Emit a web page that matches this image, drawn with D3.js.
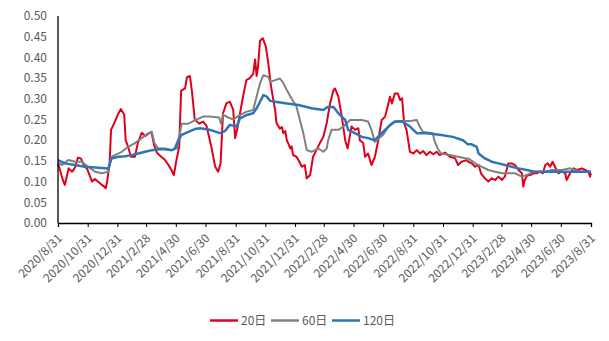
<!DOCTYPE html>
<html><head><meta charset="utf-8">
<script src="https://cdn.jsdelivr.net/npm/d3@7"></script>
<style>body{margin:0;background:#fff;} text{font-family:"Noto Sans CJK SC","Noto Sans",sans-serif;}</style>
</head><body>
<svg id="c" width="609" height="341"></svg>
<script>
const seriesNames = ["20日", "60日", "120日"];
const yTicks = [0, 0.05, 0.10, 0.15, 0.20, 0.25, 0.30, 0.35, 0.40, 0.45, 0.50];
const xTickLabels = ["2020/8/31","2020/10/31","2020/12/31","2021/2/28","2021/4/30","2021/6/30","2021/8/31","2021/10/31","2021/12/31","2022/2/28","2022/4/30","2022/6/30","2022/8/31","2022/10/31","2022/12/31","2023/2/28","2023/4/30","2023/6/30","2023/8/31"];

const vol20 = [
["2020-08-31",0.144],["2020-09-04",0.128],["2020-09-10",0.104],["2020-09-14",0.092],["2020-09-18",0.112],["2020-09-22",0.132],["2020-09-29",0.124],["2020-10-05",0.134],["2020-10-11",0.158],["2020-10-17",0.156],["2020-10-23",0.14],["2020-10-30",0.13],["2020-11-05",0.112],["2020-11-09",0.1],["2020-11-15",0.106],["2020-11-21",0.1],["2020-11-27",0.094],["2020-12-04",0.088],["2020-12-07",0.084],["2020-12-10",0.1],["2020-12-15",0.144],["2020-12-18",0.225],["2020-12-26",0.245],["2021-01-01",0.262],["2021-01-07",0.275],["2021-01-14",0.262],["2021-01-17",0.2],["2021-01-22",0.184],["2021-01-28",0.16],["2021-02-05",0.16],["2021-02-11",0.193],["2021-02-19",0.218],["2021-02-26",0.21],["2021-03-04",0.215],["2021-03-11",0.22],["2021-03-16",0.19],["2021-03-22",0.17],["2021-03-31",0.16],["2021-04-08",0.152],["2021-04-14",0.142],["2021-04-21",0.128],["2021-04-26",0.116],["2021-05-01",0.15],["2021-05-07",0.184],["2021-05-11",0.32],["2021-05-19",0.325],["2021-05-23",0.352],["2021-05-29",0.355],["2021-06-02",0.32],["2021-06-08",0.25],["2021-06-17",0.24],["2021-06-25",0.245],["2021-07-02",0.235],["2021-07-12",0.184],["2021-07-20",0.136],["2021-07-26",0.124],["2021-07-31",0.144],["2021-08-05",0.265],["2021-08-12",0.289],["2021-08-19",0.293],["2021-08-26",0.273],["2021-08-30",0.205],["2021-09-03",0.225],["2021-09-09",0.265],["2021-09-15",0.305],["2021-09-22",0.345],["2021-09-29",0.35],["2021-10-06",0.36],["2021-10-10",0.395],["2021-10-13",0.355],["2021-10-16",0.378],["2021-10-20",0.44],["2021-10-26",0.446],["2021-11-01",0.426],["2021-11-06",0.386],["2021-11-11",0.335],["2021-11-13",0.321],["2021-11-20",0.273],["2021-11-23",0.241],["2021-11-30",0.228],["2021-12-04",0.232],["2021-12-07",0.217],["2021-12-11",0.222],["2021-12-14",0.2],["2021-12-18",0.19],["2021-12-21",0.18],["2021-12-24",0.185],["2021-12-27",0.164],["2022-01-03",0.16],["2022-01-07",0.152],["2022-01-14",0.136],["2022-01-20",0.14],["2022-01-24",0.108],["2022-01-31",0.116],["2022-02-06",0.16],["2022-02-13",0.176],["2022-02-20",0.193],["2022-02-27",0.208],["2022-03-06",0.241],["2022-03-13",0.289],["2022-03-20",0.321],["2022-03-23",0.325],["2022-03-30",0.305],["2022-04-06",0.257],["2022-04-09",0.233],["2022-04-13",0.2],["2022-04-18",0.18],["2022-04-23",0.213],["2022-04-26",0.233],["2022-05-03",0.225],["2022-05-10",0.229],["2022-05-13",0.2],["2022-05-20",0.193],["2022-05-24",0.16],["2022-05-30",0.168],["2022-06-06",0.14],["2022-06-13",0.16],["2022-06-20",0.2],["2022-06-27",0.249],["2022-07-04",0.257],["2022-07-11",0.289],["2022-07-14",0.305],["2022-07-18",0.289],["2022-07-24",0.313],["2022-07-30",0.313],["2022-08-04",0.297],["2022-08-08",0.301],["2022-08-12",0.241],["2022-08-17",0.225],["2022-08-24",0.172],["2022-08-31",0.168],["2022-09-07",0.176],["2022-09-14",0.168],["2022-09-20",0.174],["2022-09-27",0.164],["2022-10-04",0.172],["2022-10-11",0.166],["2022-10-18",0.172],["2022-10-24",0.164],["2022-11-04",0.17],["2022-11-14",0.16],["2022-11-25",0.156],["2022-12-01",0.14],["2022-12-08",0.148],["2022-12-18",0.152],["2022-12-22",0.148],["2022-12-29",0.144],["2023-01-05",0.136],["2023-01-12",0.14],["2023-01-17",0.12],["2023-01-25",0.108],["2023-02-01",0.1],["2023-02-08",0.108],["2023-02-15",0.104],["2023-02-22",0.112],["2023-03-01",0.104],["2023-03-07",0.112],["2023-03-14",0.144],["2023-03-21",0.144],["2023-03-28",0.14],["2023-04-04",0.128],["2023-04-11",0.12],["2023-04-14",0.088],["2023-04-17",0.104],["2023-04-22",0.115],["2023-04-28",0.116],["2023-05-05",0.12],["2023-05-12",0.12],["2023-05-18",0.124],["2023-05-24",0.12],["2023-05-29",0.14],["2023-06-03",0.144],["2023-06-08",0.136],["2023-06-13",0.148],["2023-06-18",0.136],["2023-06-25",0.12],["2023-07-02",0.124],["2023-07-09",0.12],["2023-07-12",0.104],["2023-07-19",0.12],["2023-07-26",0.132],["2023-08-02",0.128],["2023-08-12",0.132],["2023-08-19",0.128],["2023-08-26",0.124],["2023-08-29",0.112],["2023-08-31",0.12]
];

const vol60 = [
["2020-08-31",0.146],["2020-09-08",0.14],["2020-09-21",0.152],["2020-10-05",0.148],["2020-10-19",0.148],["2020-11-01",0.136],["2020-11-15",0.124],["2020-11-29",0.12],["2020-12-12",0.124],["2020-12-19",0.16],["2020-12-26",0.164],["2021-01-09",0.172],["2021-01-22",0.184],["2021-02-05",0.193],["2021-02-19",0.205],["2021-03-05",0.217],["2021-03-12",0.22],["2021-03-17",0.193],["2021-03-25",0.18],["2021-04-08",0.18],["2021-04-22",0.176],["2021-05-02",0.18],["2021-05-09",0.22],["2021-05-12",0.24],["2021-05-26",0.24],["2021-06-08",0.248],["2021-06-25",0.257],["2021-07-09",0.257],["2021-07-28",0.255],["2021-08-01",0.24],["2021-08-05",0.262],["2021-08-15",0.255],["2021-08-26",0.25],["2021-09-09",0.261],["2021-09-23",0.269],["2021-10-06",0.273],["2021-10-13",0.305],["2021-10-20",0.337],["2021-10-27",0.357],["2021-11-06",0.353],["2021-11-10",0.341],["2021-11-20",0.345],["2021-11-30",0.349],["2021-12-07",0.338],["2021-12-14",0.321],["2021-12-24",0.3],["2022-01-03",0.281],["2022-01-10",0.249],["2022-01-17",0.217],["2022-01-24",0.176],["2022-02-03",0.172],["2022-02-17",0.18],["2022-02-27",0.172],["2022-03-06",0.18],["2022-03-09",0.2],["2022-03-16",0.225],["2022-03-30",0.225],["2022-04-09",0.233],["2022-04-16",0.241],["2022-04-23",0.249],["2022-05-17",0.249],["2022-05-30",0.245],["2022-06-06",0.225],["2022-06-13",0.196],["2022-06-30",0.213],["2022-07-11",0.233],["2022-07-18",0.241],["2022-07-28",0.245],["2022-08-28",0.247],["2022-09-07",0.249],["2022-09-13",0.233],["2022-09-20",0.22],["2022-10-10",0.217],["2022-10-13",0.2],["2022-10-20",0.18],["2022-10-27",0.168],["2022-11-14",0.164],["2022-12-01",0.16],["2022-12-18",0.156],["2022-12-22",0.156],["2023-01-05",0.144],["2023-01-18",0.136],["2023-02-01",0.128],["2023-02-15",0.124],["2023-03-01",0.12],["2023-03-28",0.12],["2023-04-11",0.112],["2023-04-21",0.116],["2023-05-05",0.124],["2023-05-29",0.124],["2023-06-11",0.128],["2023-07-02",0.128],["2023-07-19",0.132],["2023-07-29",0.128],["2023-08-12",0.124],["2023-08-31",0.124]
];

const vol120 = [
["2020-08-31",0.152],["2020-09-14",0.144],["2020-10-05",0.14],["2020-10-25",0.136],["2020-11-15",0.134],["2020-12-06",0.132],["2020-12-12",0.131],["2020-12-19",0.156],["2021-01-02",0.16],["2021-01-16",0.161],["2021-01-29",0.164],["2021-02-12",0.168],["2021-02-26",0.172],["2021-03-12",0.176],["2021-03-25",0.178],["2021-04-08",0.178],["2021-04-22",0.176],["2021-04-28",0.18],["2021-05-05",0.2],["2021-05-12",0.213],["2021-05-26",0.22],["2021-06-08",0.227],["2021-06-19",0.229],["2021-07-09",0.225],["2021-07-30",0.217],["2021-08-09",0.222],["2021-08-19",0.237],["2021-09-02",0.233],["2021-09-09",0.253],["2021-09-23",0.261],["2021-10-06",0.265],["2021-10-13",0.277],["2021-10-20",0.293],["2021-10-27",0.309],["2021-11-03",0.305],["2021-11-10",0.295],["2021-11-20",0.293],["2021-12-11",0.289],["2022-01-07",0.285],["2022-02-03",0.277],["2022-02-27",0.273],["2022-03-09",0.281],["2022-03-20",0.28],["2022-03-30",0.265],["2022-04-13",0.249],["2022-04-19",0.225],["2022-05-03",0.217],["2022-05-17",0.208],["2022-05-30",0.205],["2022-06-13",0.2],["2022-06-27",0.217],["2022-07-11",0.233],["2022-07-24",0.245],["2022-08-08",0.246],["2022-08-24",0.233],["2022-09-07",0.217],["2022-09-27",0.217],["2022-10-24",0.213],["2022-11-20",0.208],["2022-12-11",0.2],["2022-12-21",0.19],["2022-12-29",0.19],["2023-01-08",0.184],["2023-01-12",0.168],["2023-01-25",0.156],["2023-02-08",0.148],["2023-02-22",0.144],["2023-03-07",0.14],["2023-03-21",0.136],["2023-04-04",0.132],["2023-04-21",0.128],["2023-05-08",0.124],["2023-08-31",0.124]
];

const seriesData = [vol20, vol60, vol120];
const colors = ["#E0001B", "#808080", "#2E75B6"];
const widths = [2, 2, 2.5];

const parse = d3.timeParse("%Y-%m-%d");
const parseTick = d3.timeParse("%Y/%m/%d");
const svg = d3.select("#c");
const m = {l: 58, r: 591, t: 16, b: 223};
const x = d3.scaleTime().domain([parse("2020-08-31"), parse("2023-08-31")]).range([m.l, m.r]);
const y = d3.scaleLinear().domain([0, 0.5]).range([m.b, m.t]);

// y axis labels
svg.append("g").selectAll("text").data(yTicks).join("text")
  .attr("x", 47).attr("y", d => y(d)).attr("dy", "0.35em")
  .attr("text-anchor", "end").attr("font-size", 12).attr("fill", "#595959")
  .text(d => d.toFixed(2));

// lines
const line = d3.line().x(d => x(parse(d[0]))).y(d => y(d[1]));
seriesData.forEach((s, i) => {
  svg.append("path").datum(s).attr("d", line)
    .attr("fill", "none").attr("stroke", colors[i]).attr("stroke-width", widths[i])
    .attr("stroke-linejoin", "round");
});

// axes
const tickDates = xTickLabels.map(t => parseTick(t));
const xAxis = d3.axisBottom(x).tickValues(tickDates).tickSize(4).tickFormat("");
const gx = svg.append("g").attr("transform", `translate(0,${m.b})`).call(xAxis);
gx.select(".domain").attr("stroke", "#000").attr("stroke-width", 1.3);
gx.selectAll(".tick line").attr("stroke", "#000");
svg.append("line").attr("x1", m.l).attr("x2", m.l).attr("y1", y(0.5)).attr("y2", m.b)
  .attr("stroke", "#000").attr("stroke-width", 1.3);

// x labels
svg.append("g").selectAll("text").data(xTickLabels).join("text")
  .attr("transform", t => `translate(${x(parseTick(t)) + 5},${m.b + 16}) rotate(-45)`)
  .attr("text-anchor", "end").attr("font-size", 12).attr("fill", "#595959")
  .text(t => t);

// legend
const legendX = [210, 271, 332];
const lg = svg.append("g");
seriesNames.forEach((n, i) => {
  lg.append("line").attr("x1", legendX[i]).attr("x2", legendX[i] + 28)
    .attr("y1", 320.5).attr("y2", 320.5).attr("stroke", colors[i]).attr("stroke-width", 2.5);
  lg.append("text").attr("x", legendX[i] + 31).attr("y", 320.5).attr("dy", "0.35em")
    .attr("font-size", 12).attr("fill", "#595959").text(n);
});
</script>
</body></html>
